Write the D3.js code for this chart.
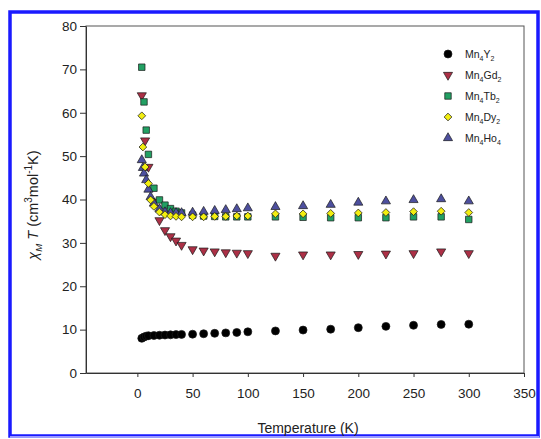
<!DOCTYPE html>
<html>
<head>
<meta charset="utf-8">
<script src="https://cdn.jsdelivr.net/npm/d3@7"></script>
<style>
  html, body { margin: 0; padding: 0; background: #fff; }
  svg { display: block; }
  text { font-family: "Liberation Sans", Arial, sans-serif; }
</style>
</head>
<body>
<svg id="chart" width="541" height="439"></svg>
<script>
// ---- data ----
const xTicks = [0, 50, 100, 150, 200, 250, 300, 350];
const yTicks = [0, 10, 20, 30, 40, 50, 60, 70, 80];

const tY2 = [4, 6, 8, 10, 15, 20, 25, 30, 35, 40, 50, 60, 70, 80, 90, 100, 125, 150, 175, 200, 225, 250, 275, 300];
const vY2 = [8.0, 8.3, 8.5, 8.6, 8.65, 8.7, 8.75, 8.8, 8.85, 8.9, 8.95, 9.05, 9.15, 9.25, 9.35, 9.5, 9.7, 9.9, 10.1, 10.45, 10.75, 11.0, 11.2, 11.25];

const tGd2 = [4, 7, 10, 15, 20, 25, 30, 35, 40, 50, 60, 70, 80, 90, 100, 125, 150, 175, 200, 225, 250, 275, 300];
const vGd2 = [64.0, 53.6, 47.5, 39.5, 35.2, 32.9, 31.5, 30.5, 29.5, 28.5, 28.2, 28.0, 27.8, 27.7, 27.6, 27.0, 27.3, 27.3, 27.4, 27.5, 27.6, 28.0, 27.6];

const tTb2 = [4, 6, 8, 10, 15, 20, 25, 30, 35, 40, 50, 60, 70, 80, 90, 100, 125, 150, 175, 200, 225, 250, 275, 300];
const vTb2 = [70.5, 62.5, 56.0, 50.4, 42.6, 39.9, 38.7, 37.9, 37.3, 36.9, 36.4, 36.2, 36.1, 36.0, 36.0, 36.0, 36.0, 35.9, 35.8, 35.8, 35.8, 36.0, 36.0, 35.4];

const tHo4 = [4, 5, 6, 8, 10, 12, 15, 20, 25, 30, 35, 40, 50, 60, 70, 80, 90, 100, 125, 150, 175, 200, 225, 250, 275, 300];
const vHo4 = [49.1, 47.3, 46.0, 44.5, 42.3, 40.6, 39.1, 37.8, 37.1, 36.9, 36.9, 36.9, 37.0, 37.2, 37.4, 37.6, 37.8, 38.0, 38.3, 38.5, 38.8, 39.3, 39.6, 39.9, 40.1, 39.6];

const tDy2 = [4, 5, 7, 10, 12, 15, 20, 25, 30, 35, 40, 50, 60, 70, 80, 90, 100, 125, 150, 175, 200, 225, 250, 275, 300];
const vDy2 = [59.3, 52.1, 47.5, 43.7, 39.9, 38.4, 37.1, 36.5, 36.2, 36.1, 36.0, 36.0, 36.0, 36.1, 36.1, 36.2, 36.2, 36.7, 36.7, 36.8, 36.9, 37.0, 37.2, 37.3, 37.0];

const seriesNames = ["Y", "Gd", "Tb", "Dy", "Ho"];

// ---- setup ----
const svg = d3.select("#chart");
const x = d3.scaleLinear().domain([-46.5, 350]).range([86, 524]);
const y = d3.scaleLinear().domain([0, 80]).range([373, 26]);

const series = [
  { key: "Y",  t: tY2,  v: vY2,  sym: d3.symbolCircle,   size: 50, fill: "#000000", rot: 0 },
  { key: "Gd", t: tGd2, v: vGd2, sym: d3.symbolTriangle, size: 36, fill: "#ac3046", rot: 180 },
  { key: "Tb", t: tTb2, v: vTb2, sym: d3.symbolSquare,   size: 42, fill: "#22a063", rot: 0 },
  { key: "Ho", t: tHo4, v: vHo4, sym: d3.symbolTriangle, size: 36, fill: "#4d4f9e", rot: 0 },
  { key: "Dy", t: tDy2, v: vDy2, sym: d3.symbolSquare,   size: 30, fill: "#f2ee10", rot: 45 }
];

// blue figure border
svg.append("rect").attr("x", 10).attr("y", 12).attr("width", 528).attr("height", 424)
  .attr("fill", "none").attr("stroke", "#1a1aff").attr("stroke-width", 3.5);
svg.append("line").attr("x1", 10).attr("x2", 539).attr("y1", 437).attr("y2", 437)
  .attr("stroke", "#9a9aff").attr("stroke-width", 2);

// plot frame
svg.append("rect").attr("x", 86).attr("y", 26).attr("width", 438).attr("height", 347)
  .attr("fill", "none").attr("stroke", "#555").attr("stroke-width", 1);

// axes
const xAxis = d3.axisBottom(x).tickValues(xTicks).tickSize(4).tickSizeOuter(0);
const gx = svg.append("g").attr("transform", "translate(0,373)").call(xAxis);
gx.select(".domain").attr("stroke", "#333");
gx.selectAll(".tick line").attr("stroke", "#333");
gx.selectAll(".tick text").attr("font-size", 13.5).attr("fill", "#222").attr("dy", "1.3em")
  .style("font-family", "Liberation Sans, Arial, sans-serif");

const yAxis = d3.axisLeft(y).tickValues(yTicks).tickSize(6).tickSizeOuter(0);
const gy = svg.append("g").attr("transform", "translate(86,0)").call(yAxis);
gy.select(".domain").attr("stroke", "#333");
gy.selectAll(".tick line").attr("stroke", "#333");
gy.selectAll(".tick text").attr("font-size", 13.5).attr("fill", "#222").attr("x", -9)
  .style("font-family", "Liberation Sans, Arial, sans-serif");

// axis titles
svg.append("text").attr("x", 308).attr("y", 433).attr("text-anchor", "middle")
  .attr("font-size", 14).attr("fill", "#222").text("Temperature (K)");

const yl = svg.append("text").attr("transform", "translate(38,205) rotate(-90)")
  .attr("text-anchor", "middle").attr("font-size", 14.5).attr("fill", "#222");
yl.append("tspan").attr("font-style", "italic").text("χ");
yl.append("tspan").attr("font-style", "italic").attr("font-size", 9.5).attr("dy", 4).text("M");
yl.append("tspan").attr("font-style", "italic").attr("dy", -4).text(" T");
yl.append("tspan").text(" (cm");
yl.append("tspan").attr("font-size", 10).attr("dy", -6).text("3");
yl.append("tspan").attr("dy", 6).text("mol");
yl.append("tspan").attr("font-size", 10).attr("dy", -6).text("-1");
yl.append("tspan").attr("dy", 6).text("K)");

// data marks
series.forEach(s => {
  const pts = s.t.map((t, i) => ({ t, v: s.v[i] }));
  svg.append("g").selectAll("path").data(pts).join("path")
    .attr("d", d3.symbol().type(s.sym).size(s.size))
    .attr("transform", d => `translate(${x(d.t)},${y(d.v)}) rotate(${s.rot})`)
    .attr("fill", s.fill).attr("stroke", "#1a1a1a").attr("stroke-width", 0.7);
});

// legend
const legendOrder = ["Y", "Gd", "Tb", "Dy", "Ho"];
const legendLabels = { Y: ["Y", "2"], Gd: ["Gd", "2"], Tb: ["Tb", "2"], Dy: ["Dy", "2"], Ho: ["Ho", "4"] };
legendOrder.forEach((k, i) => {
  const s = series.find(d => d.key === k);
  const ly = 54 + i * 21;
  svg.append("path").attr("d", d3.symbol().type(s.sym).size(s.size))
    .attr("transform", `translate(448,${ly}) rotate(${s.rot})`)
    .attr("fill", s.fill).attr("stroke", "#1a1a1a").attr("stroke-width", 0.7);
  const tx = svg.append("text").attr("x", 465).attr("y", ly + 3.5).attr("font-size", 10.5).attr("fill", "#222");
  tx.append("tspan").text("Mn");
  tx.append("tspan").attr("font-size", 7).attr("dy", 3).text("4");
  tx.append("tspan").attr("dy", -3).text(legendLabels[k][0]);
  tx.append("tspan").attr("font-size", 7).attr("dy", 3).text(legendLabels[k][1]);
});
</script>
</body>
</html>
